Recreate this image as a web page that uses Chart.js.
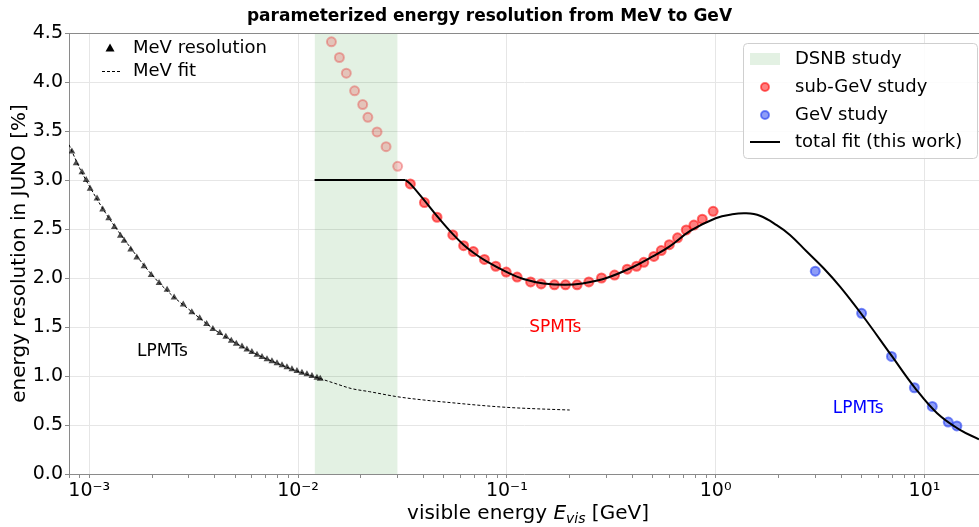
<!DOCTYPE html>
<html>
<head>
<meta charset="utf-8">
<script src="https://cdn.jsdelivr.net/npm/chart.js@4.4.1/dist/chart.umd.min.js"></script>
<style>
  html, body { margin: 0; padding: 0; background: #fff; }
  #wrap { width: 979px; height: 527px; }
</style>
</head>
<body>
<div id="wrap"><canvas id="resChart" width="979" height="527"></canvas></div>
<script>
// energies in GeV, resolution in %

// MeV resolution (LPMTs), triangles
let mevEnergy = [0.000826, 0.000866, 0.000923, 0.000967, 0.00101, 0.00109, 0.00116, 0.00124, 0.00132, 0.00141,
  0.00147, 0.00158, 0.00169, 0.00183, 0.00198, 0.00216, 0.00236, 0.00255, 0.00282, 0.00310,
  0.00338, 0.00365, 0.00391, 0.00422, 0.00451, 0.00479, 0.00506, 0.00539, 0.00569, 0.00601,
  0.00636, 0.00672, 0.00710, 0.00750, 0.00793, 0.00838, 0.00885, 0.00935, 0.00988, 0.01044,
  0.01103, 0.01166, 0.01232, 0.01277];
let mevRes = [3.29, 3.17, 3.08, 3.00, 2.91, 2.81, 2.70, 2.61, 2.52, 2.43,
  2.38, 2.29, 2.21, 2.12, 2.03, 1.95, 1.88, 1.80, 1.73, 1.65,
  1.59, 1.53, 1.48, 1.44, 1.40, 1.36, 1.33, 1.30, 1.27, 1.245,
  1.217, 1.194, 1.170, 1.150, 1.130, 1.109, 1.089, 1.068, 1.051, 1.034,
  1.017, 1.000, 0.983, 0.972];

// MeV fit (dashed)
let mevFitE = [0.0008, 0.0009, 0.001, 0.0012, 0.0015, 0.002, 0.0025, 0.003, 0.004, 0.005, 0.006, 0.008,
  0.01, 0.0125, 0.015, 0.018, 0.022, 0.03, 0.04, 0.054, 0.075, 0.1, 0.14, 0.2];
let mevFitRes = [3.36, 3.12, 2.94, 2.66, 2.37, 2.03, 1.82, 1.68, 1.47, 1.34, 1.245, 1.127,
  1.047, 0.98, 0.925, 0.872, 0.84, 0.788, 0.755, 0.728, 0.70, 0.68, 0.665, 0.653];

// sub-GeV study, points inside the DSNB window (faded)
let dsnbPtE = [0.01445, 0.01578, 0.01703, 0.01866, 0.0204, 0.0216, 0.0239, 0.0264, 0.0300];
let dsnbPtRes = [4.41, 4.25, 4.09, 3.91, 3.77, 3.64, 3.49, 3.34, 3.14];

// sub-GeV study (SPMTs)
let subGeVE = [0.0345, 0.0403, 0.0463, 0.0551, 0.0621, 0.0691, 0.0781, 0.0885, 0.0993, 0.112,
  0.130, 0.146, 0.169, 0.191, 0.217, 0.247, 0.284, 0.328, 0.377, 0.418,
  0.453, 0.506, 0.549, 0.600, 0.657, 0.723, 0.787, 0.863, 0.973];
let subGeVRes = [2.96, 2.77, 2.62, 2.44, 2.33, 2.27, 2.19, 2.12, 2.06, 2.01,
  1.96, 1.94, 1.93, 1.93, 1.93, 1.96, 2.00, 2.03, 2.09, 2.12,
  2.16, 2.22, 2.28, 2.34, 2.41, 2.49, 2.54, 2.60, 2.68];

// GeV study (LPMTs)
let gevE = [3.0, 5.0, 6.95, 8.95, 10.9, 13.0, 14.3];
let gevRes = [2.07, 1.64, 1.20, 0.88, 0.69, 0.53, 0.49];

// total fit (this work)
let fitPlateauE = [0.012, 0.0327];
let fitPlateauRes = [3.0, 3.0];
let fitE = [0.0327, 0.0345, 0.040, 0.046, 0.055, 0.062, 0.070, 0.080, 0.100, 0.120,
  0.150, 0.190, 0.230, 0.300, 0.400, 0.500, 0.600, 0.755, 1.00, 1.20,
  1.40, 1.63, 1.96, 2.27, 2.73, 3.29, 3.95, 5.00, 7.00, 9.00,
  11.5, 14.8, 18.25];
let fitRes = [3.00, 2.96, 2.80, 2.64, 2.45, 2.34, 2.25, 2.17, 2.06, 1.99,
  1.945, 1.93, 1.945, 2.00, 2.11, 2.22, 2.32, 2.48, 2.61, 2.65,
  2.66, 2.635, 2.54, 2.44, 2.27, 2.10, 1.91, 1.63, 1.20, 0.88,
  0.62, 0.45, 0.354];

// DSNB study window
let dsnbRange = [0.012, 0.03];

// axes
let xRange = [0.0008, 18.25];
let yRange = [0, 4.5];
let xTickValues = [0.001, 0.01, 0.1, 1, 10];
let xTickLabels = ['10\u207B\u00B3', '10\u207B\u00B2', '10\u207B\u00B9', '10\u2070', '10\u00B9'];

// text labels in the plot
let noteText = ['LPMTs', 'SPMTs', 'LPMTs'];
let noteE = [0.00224, 0.1706, 4.82];
let noteRes = [1.245, 1.49, 0.67];
let noteColors = ['#000000', '#ff0000', '#0000ff'];

function pts(xs, ys) {
  return xs.map(function(x, i) { return {x: x, y: ys[i]}; });
}

const FONT = '"DejaVu Sans", sans-serif';

const redFill = 'rgba(255,0,0,0.5)', redEdge = 'rgba(255,0,0,0.55)';
const blueFill = 'rgba(30,60,240,0.5)', blueEdge = 'rgba(20,50,240,0.55)';
const greenBand = 'rgba(0,128,0,0.11)';

// legends, labels, top frame line, x title
const extras = {
  id: 'extras',
  afterDraw: function(chart) {
    let ctx = chart.ctx;
    let a = chart.chartArea;
    let xs = chart.scales.x, ys = chart.scales.y;
    ctx.save();

    ctx.strokeStyle = '#8a8a8a';
    ctx.lineWidth = 1;
    ctx.beginPath();
    ctx.moveTo(a.left, a.top + 0.5);
    ctx.lineTo(a.right, a.top + 0.5);
    ctx.stroke();

    ctx.font = '17px ' + FONT;
    ctx.textAlign = 'center';
    ctx.textBaseline = 'middle';
    noteText.forEach(function(t, i) {
      ctx.fillStyle = noteColors[i];
      ctx.fillText(t, xs.getPixelForValue(noteE[i]), ys.getPixelForValue(noteRes[i]));
    });

    // upper left legend
    ctx.font = '18px ' + FONT;
    ctx.textAlign = 'left';
    ctx.fillStyle = '#000';
    let lx = a.left + 41, ly = a.top + 15;
    ctx.beginPath();
    ctx.moveTo(lx, ly - 4.5);
    ctx.lineTo(lx + 4.5, ly + 3.5);
    ctx.lineTo(lx - 4.5, ly + 3.5);
    ctx.closePath();
    ctx.fill();
    ctx.fillText('MeV resolution', a.left + 64, ly);
    ctx.strokeStyle = '#000';
    ctx.setLineDash([3, 2]);
    ctx.beginPath();
    ctx.moveTo(a.left + 33, ly + 23.5);
    ctx.lineTo(a.left + 52, ly + 23.5);
    ctx.stroke();
    ctx.setLineDash([]);
    ctx.fillText('MeV fit', a.left + 64, ly + 23);

    // upper right legend
    let bx = a.right - 236, by = a.top + 10, bw = 234, bh = 115;
    ctx.fillStyle = 'rgba(255,255,255,0.85)';
    ctx.strokeStyle = '#cfcfcf';
    ctx.beginPath();
    ctx.roundRect(bx + 0.5, by + 0.5, bw, bh, 4);
    ctx.fill();
    ctx.stroke();
    let rowY = [by + 16, by + 44, by + 72, by + 99];
    let tx = bx + 52;
    ctx.fillStyle = greenBand;
    ctx.fillRect(bx + 7, rowY[0] - 6, 30, 12);
    ctx.lineWidth = 2;
    ctx.fillStyle = redFill; ctx.strokeStyle = redEdge;
    ctx.beginPath(); ctx.arc(bx + 22, rowY[1], 4, 0, Math.PI * 2); ctx.fill(); ctx.stroke();
    ctx.fillStyle = blueFill; ctx.strokeStyle = blueEdge;
    ctx.beginPath(); ctx.arc(bx + 22, rowY[2], 4, 0, Math.PI * 2); ctx.fill(); ctx.stroke();
    ctx.strokeStyle = '#000';
    ctx.beginPath(); ctx.moveTo(bx + 7, rowY[3]); ctx.lineTo(bx + 37, rowY[3]); ctx.stroke();
    ctx.fillStyle = '#000';
    ctx.fillText('DSNB study', tx, rowY[0]);
    ctx.fillText('sub-GeV study', tx, rowY[1]);
    ctx.fillText('GeV study', tx, rowY[2]);
    ctx.fillText('total fit (this work)', tx, rowY[3]);

    // x axis title with italic E_vis
    let base = chart.height - 8;
    let p1 = 'visible energy ', p4 = ' [GeV]';
    ctx.font = '20px ' + FONT;
    let w1 = ctx.measureText(p1).width, w4 = ctx.measureText(p4).width;
    ctx.font = 'italic 20px ' + FONT;
    let w2 = ctx.measureText('E').width;
    ctx.font = 'italic 14px ' + FONT;
    let w3 = ctx.measureText('vis').width;
    let cx = (a.left + a.right) / 2 + 4;
    let x0 = cx - (w1 + w2 + w3 + w4) / 2;
    ctx.textBaseline = 'alphabetic';
    ctx.fillStyle = '#000';
    ctx.font = '20px ' + FONT;
    ctx.fillText(p1, x0, base);
    ctx.font = 'italic 20px ' + FONT;
    ctx.fillText('E', x0 + w1, base);
    ctx.font = 'italic 14px ' + FONT;
    ctx.fillText('vis', x0 + w1 + w2, base + 4);
    ctx.font = '20px ' + FONT;
    ctx.fillText(p4, x0 + w1 + w2 + w3, base);
    ctx.restore();
  }
};

Chart.defaults.font.family = FONT;
Chart.defaults.color = '#000';

let ctx = document.getElementById('resChart');
let resChart = new Chart(ctx, {
  type: 'scatter',
  data: {
    datasets: [{
      label: 'total fit (this work)',
      data: pts(fitE, fitRes),
      showLine: true,
      tension: 0.4,
      borderColor: '#000',
      borderWidth: 2,
      pointRadius: 0
    }, {
      label: 'total fit plateau',
      data: pts(fitPlateauE, fitPlateauRes),
      showLine: true,
      borderColor: '#000',
      borderWidth: 2,
      pointRadius: 0
    }, {
      label: 'GeV study',
      data: pts(gevE, gevRes),
      backgroundColor: blueFill,
      borderColor: blueEdge,
      borderWidth: 2,
      pointRadius: 4.5
    }, {
      label: 'sub-GeV study',
      data: pts(subGeVE, subGeVRes),
      backgroundColor: redFill,
      borderColor: redEdge,
      borderWidth: 2,
      pointRadius: 4.5
    }, {
      label: 'sub-GeV study (DSNB window)',
      data: pts(dsnbPtE, dsnbPtRes),
      backgroundColor: 'rgba(230,60,60,0.25)',
      borderColor: 'rgba(230,40,40,0.35)',
      borderWidth: 2,
      pointRadius: 4.5
    }, {
      label: 'MeV fit',
      data: pts(mevFitE, mevFitRes),
      showLine: true,
      cubicInterpolationMode: 'monotone',
      borderColor: '#000',
      borderWidth: 1,
      borderDash: [3, 2],
      pointRadius: 0
    }, {
      label: 'MeV resolution',
      data: pts(mevEnergy, mevRes),
      pointStyle: 'triangle',
      backgroundColor: 'rgba(0,0,0,0.7)',
      borderWidth: 0,
      pointRadius: 4
    }, {
      label: 'DSNB study',
      data: pts(dsnbRange, [yRange[1], yRange[1]]),
      showLine: true,
      fill: 'origin',
      backgroundColor: greenBand,
      borderColor: 'rgba(0,128,0,0.1)',
      borderWidth: 1,
      pointRadius: 0
    }]
  },
  options: {
    responsive: false,
    animation: false,
    devicePixelRatio: 1,
    layout: { padding: 0, autoPadding: false },
    plugins: {
      legend: { display: false },
      tooltip: { enabled: false },
      title: {
        display: true,
        text: 'parameterized energy resolution from MeV to GeV',
        font: { size: 17, weight: 'bold' },
        color: '#000',
        padding: { top: 6, bottom: 6.6 }
      }
    },
    scales: {
      x: {
        type: 'logarithmic',
        min: xRange[0],
        max: xRange[1],
        afterFit: function(scale) {
          scale.height = 53;
          scale.paddingLeft = 0;
          scale.paddingRight = 0;
        },
        afterBuildTicks: function(scale) {
          let t = [];
          let decades = [xTickValues[0] / 10].concat(xTickValues);
          decades.forEach(function(d) {
            for (let k = 1; k < 10; k++) {
              let v = k === 1 ? d : k * d;
              if (v >= xRange[0] * 0.999 && v <= xRange[1]) {
                t.push({ value: v, major: xTickValues.indexOf(v) >= 0 });
              }
            }
          });
          scale.ticks = t;
        },
        ticks: {
          autoSkip: false,
          maxRotation: 0,
          padding: 2,
          font: { size: 19 },
          color: '#000',
          callback: function(value) {
            let i = xTickValues.indexOf(value);
            return i >= 0 ? xTickLabels[i] : '';
          }
        },
        grid: {
          color: function(c) { return c.tick && c.tick.major ? '#e6e6e6' : 'rgba(0,0,0,0)'; },
          tickColor: '#8a8a8a',
          tickLength: 4
        },
        border: { display: true, color: '#8a8a8a' }
      },
      y: {
        min: yRange[0],
        max: yRange[1],
        afterFit: function(scale) {
          scale.width = 69;
          scale.paddingTop = 0;
          scale.paddingBottom = 0;
        },
        ticks: {
          stepSize: 0.5,
          padding: 2,
          font: { size: 19 },
          color: '#000',
          callback: function(v) { return v.toFixed(1); }
        },
        grid: { color: '#e6e6e6', tickColor: '#8a8a8a', tickLength: 4 },
        border: { display: true, color: '#8a8a8a' },
        title: {
          display: true,
          text: 'energy resolution in JUNO [%]',
          font: { size: 20 },
          color: '#000',
          padding: { top: 8, bottom: 0 }
        }
      }
    }
  },
  plugins: [extras]
});
</script>
</body>
</html>
